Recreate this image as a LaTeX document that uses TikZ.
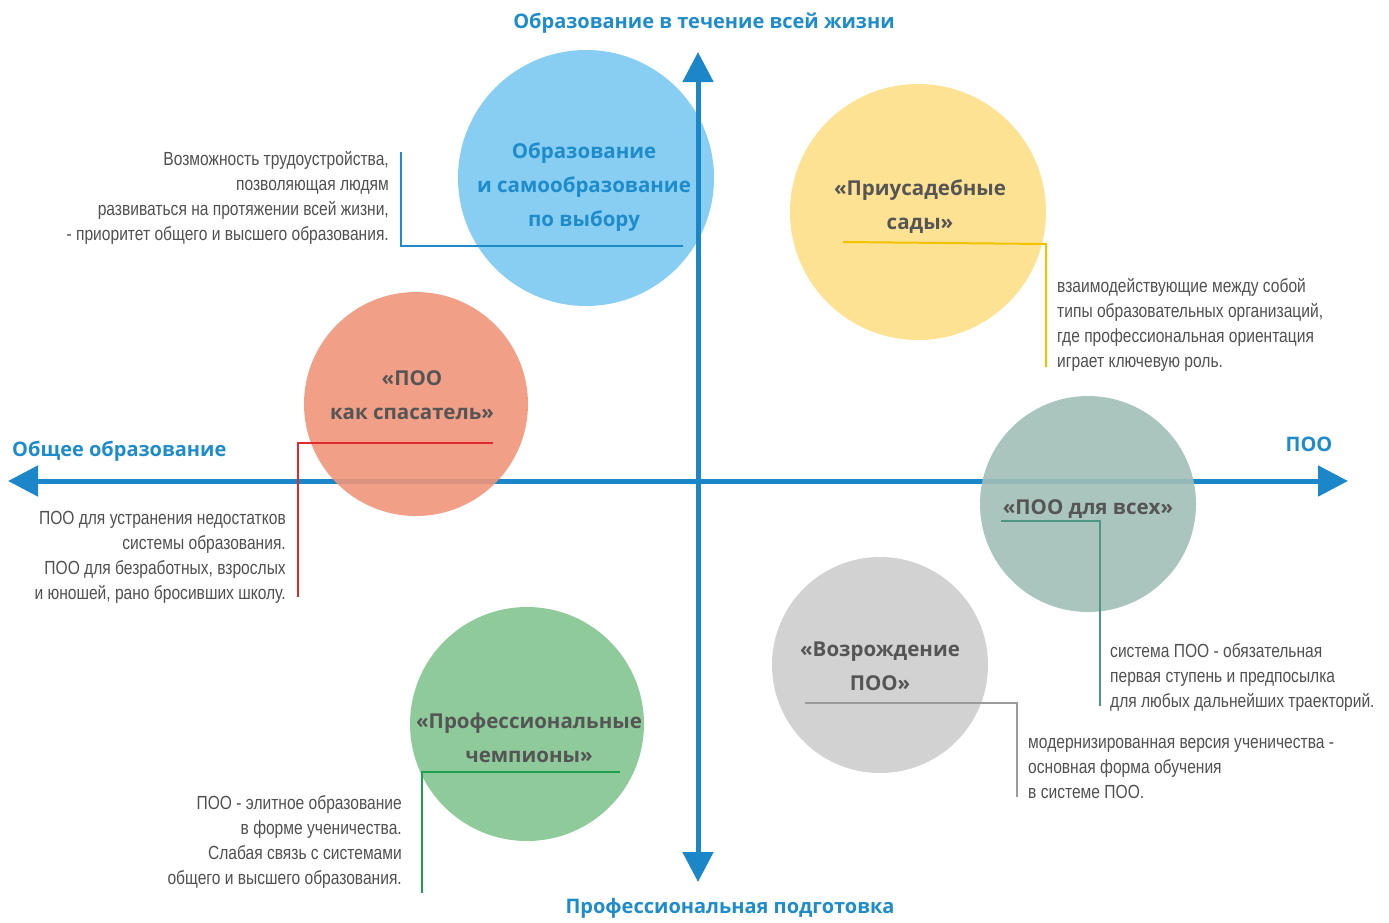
\documentclass[tikz,border=0pt]{standalone}
\usepackage{fontspec}
\setmainfont{Liberation Sans}
\newfontfamily\tfont{Open Sans}
\newfontfamily\sfont[FakeStretch=0.82]{Liberation Sans}
\usetikzlibrary{arrows.meta}
\definecolor{axisblue}{HTML}{1B87C9}
\definecolor{cblue}{HTML}{88CEF3}
\definecolor{tblue}{HTML}{1E8BCB}
\definecolor{cyellow}{HTML}{FDE293}
\definecolor{lyellow}{HTML}{F2C200}
\definecolor{corange}{HTML}{F0957A}
\definecolor{lred}{HTML}{E12A2E}
\definecolor{cteal}{HTML}{A0BFB6}
\definecolor{lteal}{HTML}{4E9684}
\definecolor{cgray}{HTML}{D2D2D2}
\definecolor{lgray}{HTML}{9B9B9B}
\definecolor{cgreen}{HTML}{8FCA9B}
\definecolor{lgreen}{HTML}{1E9E4E}
\definecolor{titlegray}{HTML}{555555}
\definecolor{notegray}{HTML}{505050}
\tikzset{
  circ/.style={circle, inner sep=0pt, minimum size=#1},
  ttl/.style={font=\tfont\bfseries\fontsize{20.5}{34}\selectfont, text=titlegray, align=center, inner sep=0pt},
  axlabel/.style={font=\tfont\bfseries\fontsize{20}{24}\selectfont, text=tblue, inner sep=0pt},
  note/.style={font=\sfont\fontsize{19}{25}\selectfont, text=notegray, inner sep=0pt},
  lead/.style={line width=2pt},
  axis/.style={line width=5pt, draw=axisblue, {Triangle[width=30pt,length=30pt]}-{Triangle[width=30pt,length=30pt]}}
}
\begin{document}
\begin{tikzpicture}[x=1pt,y=-1pt]
\useasboundingbox (0,0) rectangle (1389,922);
% circles below the axes
\node[circ=256pt, fill=cblue] (cb) at (586,178) {};
\node[circ=256pt, fill=cyellow] (cy) at (918,212) {};
\node[circ=216pt, fill=cgray] (cg) at (880,665) {};
\node[circ=234pt, fill=cgreen] (cgr) at (527,724) {};
% axes
\coordinate (tp) at (698,52);
\coordinate (bt) at (698,882);
\coordinate (lf) at (8,481);
\coordinate (rt) at (1348,481);
\draw[axis] (bt) -- (tp);
\draw[axis] (lf) -- (rt);
% translucent circles over the axis
\node[circ=224pt, fill=corange, fill opacity=0.9] (co) at (416,404) {};
\node[circ=216pt, fill=cteal, fill opacity=0.9] (ct) at (1088,504) {};
% axis labels
\node[axlabel] (lt) at (704,23) {Образование в течение всей жизни};
\node[axlabel] (lb) at (730,908) {Профессиональная подготовка};
\node[axlabel, anchor=west] (ll) at (12,451) {Общее образование};
\node[axlabel] (lr) at (1309,444) {ПОО};
% circle titles
\node[ttl, text=tblue] (tb) at (584,186) {\strut Образование\\\strut и самообразование\\\strut по выбору};
\node[ttl] (ty) at (920,206) {\strut «Приусадебные\\\strut сады»};
\node[ttl] (to) at (412,396) {\strut «ПОО\\\strut как спасатель»};
\node[ttl] (tt) at (1088,508) {\strut «ПОО для всех»};
\node[ttl] (tg) at (880,667) {\strut «Возрождение\\\strut ПОО»};
\node[ttl] (tgr) at (529,739) {\strut «Профессиональные\\\strut чемпионы»};
% notes
\node[note, anchor=north east, align=right] (nb) at (389,147.5) {\strut Возможность трудоустройства,\\\strut позволяющая людям\\\strut развиваться на протяжении всей жизни,\\\strut - приоритет общего и высшего образования.};
\node[note, anchor=north west, align=left] (ny) at (1057,274.5) {\strut взаимодействующие между собой\\\strut типы образовательных организаций,\\\strut где профессиональная ориентация\\\strut играет ключевую роль.};
\node[note, anchor=north east, align=right] (no) at (286,506.5) {\strut ПОО для устранения недостатков\\\strut системы образования.\\\strut ПОО для безработных, взрослых\\\strut и юношей, рано бросивших школу.};
\node[note, anchor=north west, align=left] (nt) at (1110,639.5) {\strut система ПОО - обязательная\\\strut первая ступень и предпосылка\\\strut для любых дальнейших траекторий.};
\node[note, anchor=north west, align=left] (ng) at (1028,730.5) {\strut модернизированная версия ученичества -\\\strut основная форма обучения\\\strut в системе ПОО.};
\node[note, anchor=north east, align=right] (ngr) at (402,791.5) {\strut ПОО - элитное образование\\\strut в форме ученичества.\\\strut Слабая связь с системами\\\strut общего и высшего образования.};
% leader lines
\coordinate (b1) at (683,246); \coordinate (b2) at (401,246); \coordinate (b3) at (401,152);
\draw[lead, draw=tblue] (b1) -- (b2) -- (b3);
\coordinate (y1) at (843,242); \coordinate (y2) at (1046,244); \coordinate (y3) at (1046,367);
\draw[lead, draw=lyellow] (y1) -- (y2) -- (y3);
\coordinate (o1) at (493,443); \coordinate (o2) at (298,443); \coordinate (o3) at (298,597);
\draw[lead, draw=lred] (o1) -- (o2) -- (o3);
\coordinate (t1) at (1001,521); \coordinate (t2) at (1100,521); \coordinate (t3) at (1100,706);
\draw[lead, draw=lteal] (t1) -- (t2) -- (t3);
\coordinate (g1) at (805,703); \coordinate (g2) at (1017,703); \coordinate (g3) at (1017,797);
\draw[lead, draw=lgray] (g1) -- (g2) -- (g3);
\coordinate (r1) at (620,772); \coordinate (r2) at (422,772); \coordinate (r3) at (422,893);
\draw[lead, draw=lgreen] (r1) -- (r2) -- (r3);
\end{tikzpicture}
\end{document}
